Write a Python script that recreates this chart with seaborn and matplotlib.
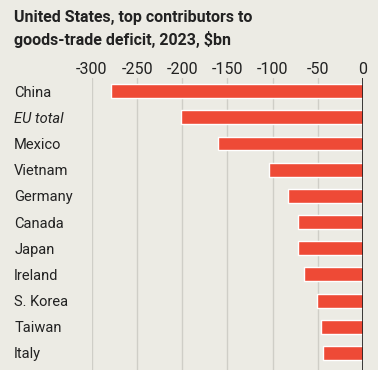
import matplotlib
matplotlib.use("Agg")
import matplotlib.pyplot as plt
import seaborn as sns
import pandas as pd

# data ($bn, 2023)
countries = ["China", "EU total", "Mexico", "Vietnam", "Germany", "Canada",
             "Japan", "Ireland", "S. Korea", "Taiwan", "Italy"]
deficit = [-279, -201, -161, -104, -83, -72, -71.5, -65, -50.5, -47, -44]
x_ticks = [-300, -250, -200, -150, -100, -50, 0]

BG = "#ECEBE4"
BAR = "#EE4A36"
GRID = "#CFCEC7"
TEXT = "#222222"

sns.set_theme(style="white")
plt.rcParams["font.family"] = ["Roboto", "DejaVu Sans"]

df = pd.DataFrame({"country": countries, "deficit": deficit})

fig = plt.figure(figsize=(3.78, 3.70), dpi=100, facecolor=BG)
ax = fig.add_axes([92 / 378, 0, (363 - 92) / 378, (370 - 78) / 370])
ax.set_facecolor(BG)

sns.barplot(data=df, x="deficit", y="country", orient="h", color=BAR,
            width=0.53, saturation=1, ax=ax, zorder=3)

ax.set_xlim(-300, 0)
ax.set_ylim(10.65, -0.5)
ax.set_xticks(x_ticks)
ax.set_xticklabels([str(t) for t in x_ticks])
ax.xaxis.tick_top()
ax.tick_params(axis="x", length=0, pad=1, labelsize=11.5, colors=TEXT)
ax.tick_params(axis="y", length=0, pad=56, labelsize=10.5, colors=TEXT)
for lbl in ax.get_yticklabels():
    lbl.set_horizontalalignment("left")
    if lbl.get_text() == "EU total":
        lbl.set_fontstyle("italic")

ax.grid(axis="x", color=GRID, linewidth=1, zorder=0)
ax.axvline(0, color="#1a1a1a", linewidth=1.2, zorder=4)
for s in ax.spines.values():
    s.set_visible(False)
ax.set_xlabel("")
ax.set_ylabel("")

fig.text(14 / 378, 1 - 10 / 370,
         "United States, top contributors to\ngoods-trade deficit, 2023, $bn",
         ha="left", va="top", fontsize=11.5, fontweight="bold", color=TEXT,
         linespacing=1.45)

fig.savefig("out.png", dpi=100, facecolor=BG)
